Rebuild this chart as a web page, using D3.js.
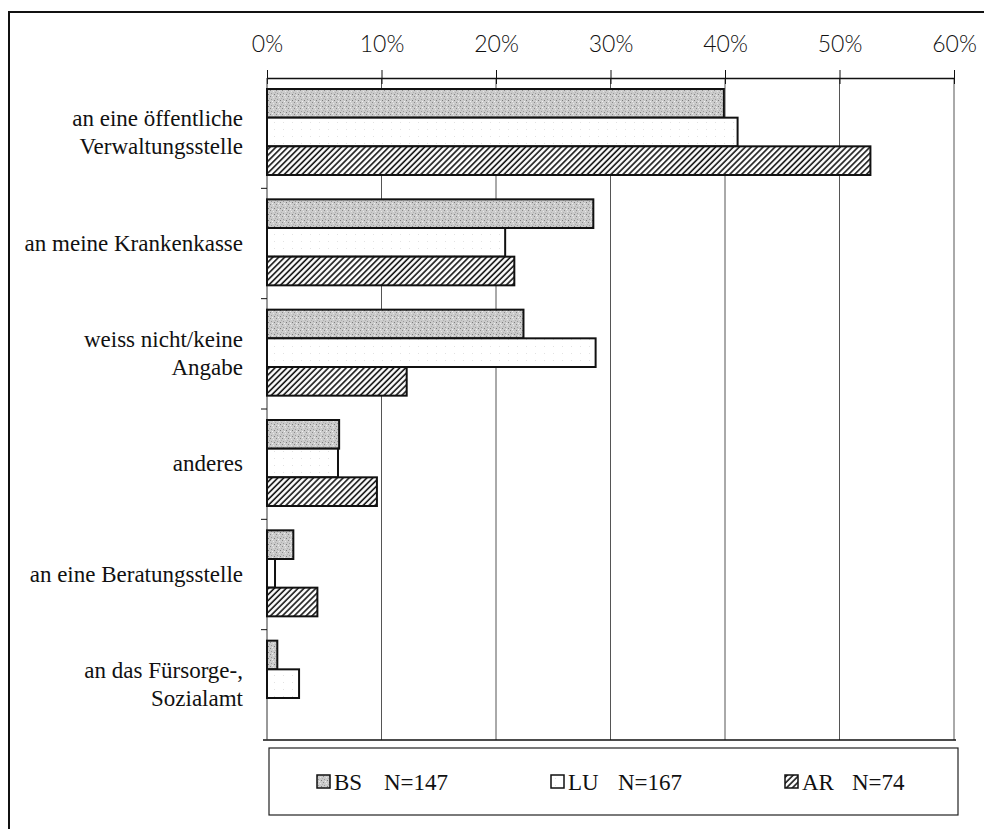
<!DOCTYPE html>
<html>
<head>
<meta charset="utf-8">
<script src="https://cdn.jsdelivr.net/npm/d3@7"></script>
<style>
  body { margin: 0; background: #fff; }
  #chart { width: 984px; height: 829px; }
  .serif { font-family: "Liberation Serif", "DejaVu Serif", serif; }
</style>
</head>
<body>
<div id="chart"></div>
<script>
// categories (line breaks as in the original)
var categories = ["an eine öffentliche\nVerwaltungsstelle", "an meine Krankenkasse", "weiss nicht/keine\nAngabe", "anderes", "an eine Beratungsstelle", "an das Fürsorge-,\nSozialamt"]

var seriesNames = ["BS", "LU", "AR"]
var seriesN = ["N=147", "N=167", "N=74"]

// values in percent
var bsValues = [39.9, 28.5, 22.4, 6.3, 2.3, 0.9]
var luValues = [41.1, 20.8, 28.7, 6.2, 0.7, 2.8]
var arValues = [52.7, 21.6, 12.2, 9.6, 4.4, 0]

var tickValues = [0, 10, 20, 30, 40, 50, 60]

function makeChart() {
  var width = 984
  var height = 829

  var tickFont = "Lato, 'Open Sans', sans-serif"

  var svg = d3.select("#chart")
    .append("svg")
    .attr("width", width)
    .attr("height", height)

  //patterns for the three series
  var defs = svg.append("defs")

  var bsPat = defs.append("pattern")
    .attr("id", "patBS")
    .attr("patternUnits", "userSpaceOnUse")
    .attr("width", 6)
    .attr("height", 6)
  bsPat.append("rect").attr("width", 6).attr("height", 6).attr("fill", "#cbcbcb")
  var dots = [[0, 0, "#8a8a8a"], [3, 1, "#e6e6e6"], [1, 3, "#9a9a9a"], [4, 4, "#7d7d7d"], [5, 2, "#b0b0b0"], [2, 5, "#efefef"]]
  dots.forEach(function (d) {
    bsPat.append("rect").attr("x", d[0]).attr("y", d[1]).attr("width", 1).attr("height", 1).attr("fill", d[2])
  })

  var luPat = defs.append("pattern")
    .attr("id", "patLU")
    .attr("patternUnits", "userSpaceOnUse")
    .attr("width", 9)
    .attr("height", 7)
  luPat.append("rect").attr("width", 9).attr("height", 7).attr("fill", "#fff")
  luPat.append("rect").attr("x", 4).attr("y", 3).attr("width", 1).attr("height", 1).attr("fill", "#e2e2e2")

  var arPat = defs.append("pattern")
    .attr("id", "patAR")
    .attr("patternUnits", "userSpaceOnUse")
    .attr("width", 4.2)
    .attr("height", 4.2)
    .attr("patternTransform", "rotate(45)")
  arPat.append("rect").attr("width", 4.2).attr("height", 4.2).attr("fill", "#fff")
  arPat.append("line")
    .attr("x1", 1).attr("y1", 0).attr("x2", 1).attr("y2", 4.2)
    .attr("stroke", "#111").attr("stroke-width", 1.6)

  var fills = ["url(#patBS)", "url(#patLU)", "url(#patAR)"]

  //outer frame
  svg.append("rect")
    .attr("x", 9).attr("y", 12)
    .attr("width", 990).attr("height", 830)
    .attr("fill", "none")
    .attr("stroke", "#111")
    .attr("stroke-width", 2)

  //scales
  var plotTop = 78
  var plotBottom = 740
  var x = d3.scaleLinear().domain([0, 60]).range([267, 954])
  var y = d3.scaleBand().domain(categories).range([plotTop, plotBottom])
  var ySub = d3.scaleBand().domain(seriesNames).range([11, 97])

  //gridlines
  svg.append("g")
    .selectAll("line")
    .data(tickValues.slice(1))
    .enter()
    .append("line")
    .attr("x1", function (d) { return x(d) })
    .attr("x2", function (d) { return x(d) })
    .attr("y1", plotTop)
    .attr("y2", plotBottom)
    .attr("stroke", "#555")
    .attr("stroke-width", 1)

  //top axis
  var xAxis = svg.append("g")
    .attr("transform", "translate(0," + plotTop + ")")
    .call(d3.axisTop(x).tickValues(tickValues).tickFormat(function (d) { return d + "%" }).tickSize(8).tickSizeOuter(0))
  xAxis.select(".domain").attr("stroke", "#111").attr("stroke-width", 1.5)
  xAxis.selectAll(".tick line").attr("stroke", "#111").attr("y2", -8).attr("y1", 6)
  xAxis.selectAll(".tick text")
    .attr("y", -26)
    .style("font-family", tickFont)
    .style("font-weight", 300)
    .style("font-size", "23px")
    .attr("fill", "#111")

  //bottom line
  svg.append("line")
    .attr("x1", 263).attr("x2", x(60) + 2)
    .attr("y1", plotBottom).attr("y2", plotBottom)
    .attr("stroke", "#111")
    .attr("stroke-width", 1.5)

  //left axis with category ticks at band borders
  svg.append("line")
    .attr("x1", x(0)).attr("x2", x(0))
    .attr("y1", plotTop).attr("y2", plotBottom)
    .attr("stroke", "#333")
    .attr("stroke-width", 1)

  svg.append("g")
    .selectAll("line")
    .data(categories.slice(1))
    .enter()
    .append("line")
    .attr("x1", x(0) - 6).attr("x2", x(0))
    .attr("y1", function (d) { return y(d) })
    .attr("y2", function (d) { return y(d) })
    .attr("stroke", "#111")

  //category labels
  var labels = svg.append("g")
    .selectAll("text")
    .data(categories)
    .enter()
    .append("text")
    .classed("serif", true)
    .attr("x", 243)
    .attr("y", function (d) { return y(d) + y.bandwidth() / 2 })
    .attr("text-anchor", "end")
    .style("font-size", "23px")
    .attr("fill", "#111")

  labels.each(function (d) {
    var lines = d.split("\n")
    var t = d3.select(this)
    lines.forEach(function (line, i) {
      t.append("tspan")
        .classed("serif", true)
        .attr("x", 243)
        .attr("dy", i == 0 ? (7 - (lines.length - 1) * 14) : 28)
        .text(line)
    })
  })

  //bars
  var allValues = [bsValues, luValues, arValues]
  var barData = []
  categories.forEach(function (c, i) {
    seriesNames.forEach(function (s, j) {
      barData.push({ cat: c, series: s, value: allValues[j][i], idx: j })
    })
  })

  svg.append("g")
    .selectAll("rect")
    .data(barData.filter(function (d) { return d.value > 0 }))
    .enter()
    .append("rect")
    .attr("x", x(0))
    .attr("y", function (d) { return y(d.cat) + ySub(d.series) })
    .attr("width", function (d) { return x(d.value) - x(0) })
    .attr("height", ySub.bandwidth())
    .attr("fill", function (d) { return fills[d.idx] })
    .attr("stroke", "#111")
    .attr("stroke-width", 2)

  //legend
  var legend = svg.append("g")
  legend.append("rect")
    .attr("x", 269).attr("y", 748)
    .attr("width", 689).attr("height", 67)
    .attr("fill", "none")
    .attr("stroke", "#222")
    .attr("stroke-width", 1.2)

  var legendX = [317, 551, 785]
  var item = legend.selectAll(".item")
    .data(seriesNames)
    .enter()
    .append("g")
    .classed("item", true)
    .attr("transform", function (d, i) { return "translate(" + legendX[i] + ",782)" })

  item.append("rect")
    .attr("x", 0).attr("y", -7)
    .attr("width", 13).attr("height", 13)
    .attr("fill", function (d, i) { return fills[i] })
    .attr("stroke", "#111")
    .attr("stroke-width", 1.5)

  item.append("text")
    .classed("serif", true)
    .attr("x", 17)
    .attr("y", 8)
    .style("font-size", "23px")
    .attr("fill", "#111")
    .text(function (d) { return d })

  item.append("text")
    .classed("serif", true)
    .attr("x", 67)
    .attr("y", 8)
    .style("font-size", "23px")
    .attr("fill", "#111")
    .text(function (d, i) { return seriesN[i] })
}

makeChart()
</script>
</body>
</html>
